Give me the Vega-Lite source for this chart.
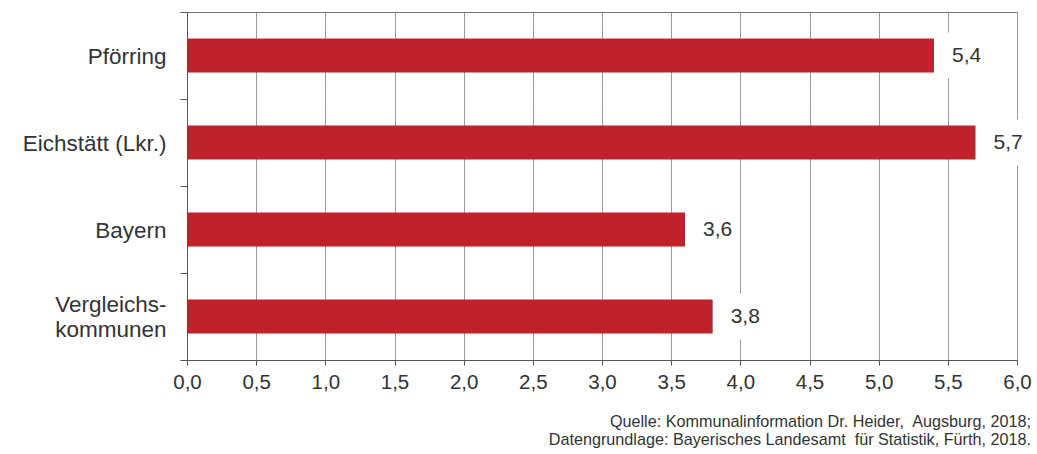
{
  "$schema": "https://vega.github.io/schema/vega-lite/v6.json",
  "width": 830,
  "height": 348,
  "autosize": {"type": "none"},
  "padding": {"left": 187, "top": 12, "right": 20, "bottom": 94},
  "background": "white",
  "title": {
    "text": [
      "Quelle: Kommunalinformation Dr. Heider,\u00a0 Augsburg, 2018;",
      "Datengrundlage: Bayerisches Landesamt\u00a0 für Statistik, Fürth, 2018."
    ],
    "orient": "bottom",
    "anchor": "end",
    "frame": "group",
    "fontSize": 16.2,
    "fontWeight": "normal",
    "color": "#333333",
    "lineHeight": 18,
    "offset": 21,
    "dx": 14
  },
  "data": {
    "values": [
      {"region": "Pförring", "value": 5.4},
      {"region": "Eichstätt (Lkr.)", "value": 5.7},
      {"region": "Bayern", "value": 3.6},
      {"region": "Vergleichs-\nkommunen", "value": 3.8}
    ]
  },
  "encoding": {
    "y": {
      "field": "region",
      "type": "nominal",
      "sort": null,
      "scale": {"paddingInner": 0, "paddingOuter": 0},
      "axis": {
        "title": null,
        "labelFontSize": 22.5,
        "labelColor": "#333333",
        "labelPadding": 14,
        "labelBaseline": "bottom",
        "labelLineHeight": 12.5,
        "labelExpr": "indexof(datum.label, '\\n') >= 0 ? [split(datum.label, '\\n')[0], '\u200b', split(datum.label, '\\n')[1]] : ['\u200b', datum.label]",
        "tickSize": 7,
        "tickBand": "extent",
        "tickColor": "#555555",
        "domainColor": "#555555",
        "labelLimit": 300,
        "grid": false
      }
    },
    "x": {
      "field": "value",
      "type": "quantitative",
      "scale": {"domain": [0, 6], "nice": false},
      "axis": {
        "title": null,
        "values": [0, 0.5, 1, 1.5, 2, 2.5, 3, 3.5, 4, 4.5, 5, 5.5, 6],
        "format": ".1f",
        "labelFontSize": 20.5,
        "labelColor": "#333333",
        "labelPadding": 7,
        "labelFlush": false,
        "tickSize": 5,
        "tickColor": "#555555",
        "domainColor": "#555555",
        "grid": true,
        "gridColor": "#999999",
        "gridOpacity": 1
      }
    }
  },
  "layer": [
    {"mark": {"type": "bar", "size": 34, "color": "#c0222c"}},
    {
      "mark": {
        "type": "point",
        "shape": "M-0.8,-1H0.8V1H-0.8Z",
        "size": 2116,
        "filled": true,
        "color": "white",
        "opacity": 1,
        "xOffset": 32
      }
    },
    {
      "mark": {"type": "text", "align": "left", "baseline": "middle", "dx": 18, "fontSize": 21, "color": "#333333"},
      "encoding": {"text": {"field": "value", "type": "quantitative", "format": ".1f"}}
    }
  ],
  "config": {
    "font": "Liberation Sans",
    "locale": {
      "number": {"decimal": ",", "thousands": ".", "grouping": [3], "currency": ["", " €"]}
    },
    "view": {"stroke": "#777777", "strokeWidth": 1}
  }
}
